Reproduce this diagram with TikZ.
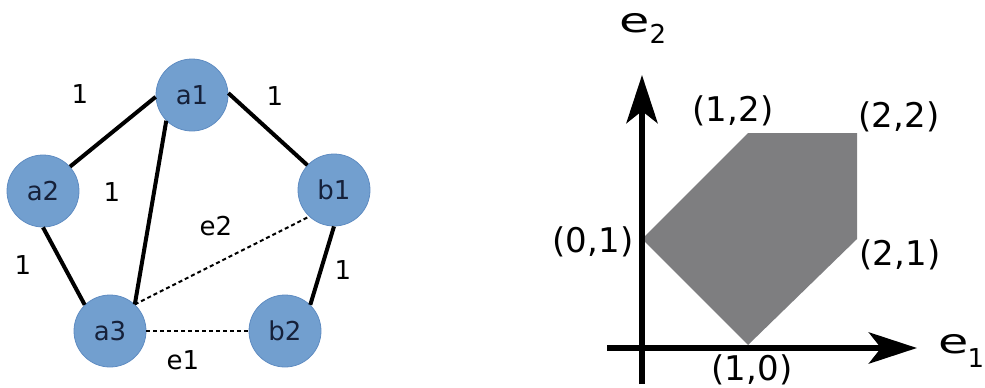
\documentclass[tikz,border=0pt]{standalone}
\usepackage{graphicx}
\usepackage{fontspec}
\setmainfont{DejaVu Sans}
\usetikzlibrary{arrows.meta}
\definecolor{nodeblue}{HTML}{729FCF}
\definecolor{nodeedge}{HTML}{5F8CC2}
\definecolor{nodetext}{HTML}{16213A}
\definecolor{regiongray}{HTML}{7E7E80}
\begin{document}
\begin{tikzpicture}[x=1pt,y=-1pt,
  vertex/.style={circle,fill=nodeblue,draw=nodeedge,line width=0.8pt,minimum size=72pt,inner sep=0pt,font=\fontsize{26}{26}\selectfont,text=nodetext},
  edge/.style={line width=4pt},
  dotedge/.style={line width=2pt,dash pattern=on 4pt off 3pt},
  wlabel/.style={font=\fontsize{26}{26}\selectfont,inner sep=0pt},
  plabel/.style={font=\fontsize{34}{34}\selectfont,inner sep=0pt,anchor=base},
  axisline/.style={line width=6.5pt,-{Stealth[length=48pt,width=31pt,inset=12pt]}}
]
\useasboundingbox (0,0) rectangle (985,388);

% ---------- left graph ----------
\node[vertex] (a1) at (192,95) {a1};
\node[vertex] (a2) at (43,191) {a2};
\node[vertex] (b1) at (334,190) {b1};
\node[vertex] (a3) at (110,331) {a3};
\node[vertex] (b2) at (285,331) {b2};

\draw[edge] (a2.42) -- (a1.183);
\draw[edge] (a1.3) -- (b1.137);
\draw[edge] (a1.225) -- (a3.47);
\draw[edge] (a2.270) -- (a3.134);
\draw[edge] (b1.270) -- (b2.46);
\draw[dotedge] (a3.47) -- (b1.227);
\draw[dotedge] (a3.east) -- (b2.west);

\node[wlabel] (w1) at (80,94) {1};
\node[wlabel] (w2) at (275,96) {1};
\node[wlabel] (w3) at (112,192) {1};
\node[wlabel] (w4) at (23,265) {1};
\node[wlabel] (w5) at (343,270) {1};
\node[wlabel] (le2) at (216,226) {e2};
\node[wlabel] (le1) at (183,360) {e1};

% ---------- right plot ----------
\coordinate (p01) at (642,239);
\coordinate (p12) at (748,133);
\coordinate (p22) at (857,133);
\coordinate (p21) at (857,239);
\coordinate (p10) at (748,345);
\fill[regiongray] (p01) -- (p12) -- (p22) -- (p21) -- (p10) -- cycle;

\coordinate (ybot) at (642,384);
\coordinate (ytop) at (642,75);
\coordinate (xleft) at (607,348);
\coordinate (xright) at (917,348);
\draw[axisline] (ybot) -- (ytop);
\draw[axisline] (xleft) -- (xright);

\node[plabel] (l12) at (733,121) {(1,2)};
\node[plabel] (l22) at (899,127) {(2,2)};
\node[plabel] (l01) at (593,252) {(0,1)};
\node[plabel] (l21) at (900,265) {(2,1)};
\node[plabel] (l10) at (752,380) {(1,0)};

\node[anchor=base west,inner sep=0pt] (ax2) at (619,32)
  {\fontsize{34}{34}\selectfont\scalebox{1.45}[1]{e}\raisebox{-11pt}{\fontsize{26}{26}\selectfont 2}};
\node[anchor=base west,inner sep=0pt] (ax1) at (938,353)
  {\fontsize{34}{34}\selectfont\scalebox{1.45}[1]{e}\kern-1pt\raisebox{-14pt}{\fontsize{26}{26}\selectfont 1}};
\end{tikzpicture}
\end{document}
